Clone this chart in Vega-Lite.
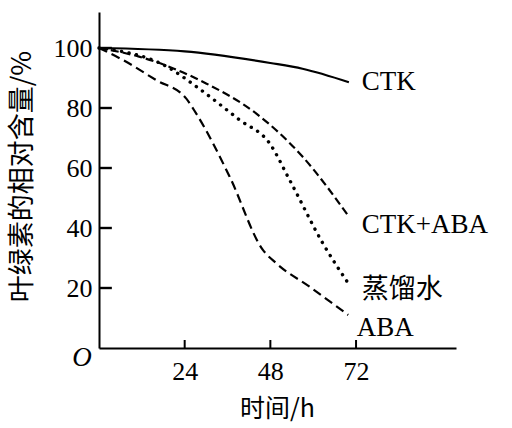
{
  "$schema": "https://vega.github.io/schema/vega-lite/v6.json",
  "width": 357,
  "height": 336,
  "autosize": "none",
  "padding": {"left": 99, "top": 12, "right": 56, "bottom": 80},
  "background": "white",
  "config": {"view": {"stroke": null}},
  "datasets": {
    "curves": [
      {"t": 0, "v": 100, "s": "CTK"},
      {"t": 24, "v": 98.9, "s": "CTK"},
      {"t": 48, "v": 95, "s": "CTK"},
      {"t": 57, "v": 93.1, "s": "CTK"},
      {"t": 70, "v": 88.6, "s": "CTK"},
      {"t": 0, "v": 100, "s": "CTK+ABA"},
      {"t": 11, "v": 97.2, "s": "CTK+ABA"},
      {"t": 30, "v": 88.2, "s": "CTK+ABA"},
      {"t": 44, "v": 78.2, "s": "CTK+ABA"},
      {"t": 57, "v": 63.8, "s": "CTK+ABA"},
      {"t": 70, "v": 43.8, "s": "CTK+ABA"},
      {"t": 0, "v": 100, "s": "water"},
      {"t": 19, "v": 93.8, "s": "water"},
      {"t": 27.3, "v": 87.1, "s": "water"},
      {"t": 39.4, "v": 76, "s": "water"},
      {"t": 47.8, "v": 68.2, "s": "water"},
      {"t": 53.4, "v": 56, "s": "water"},
      {"t": 62.7, "v": 34.9, "s": "water"},
      {"t": 69.8, "v": 21.6, "s": "water"},
      {"t": 0, "v": 100, "s": "ABA"},
      {"t": 6.7, "v": 96, "s": "ABA"},
      {"t": 16, "v": 89.3, "s": "ABA"},
      {"t": 24.4, "v": 83.2, "s": "ABA"},
      {"t": 27.2, "v": 78.2, "s": "ABA"},
      {"t": 36.6, "v": 57.1, "s": "ABA"},
      {"t": 45.9, "v": 32.7, "s": "ABA"},
      {"t": 49.7, "v": 28.2, "s": "ABA"},
      {"t": 59, "v": 20.4, "s": "ABA"},
      {"t": 69.8, "v": 11, "s": "ABA"}
    ],
    "labels": [
      {"t": 73.6, "v": 88.7, "label": "CTK"},
      {"t": 73.6, "v": 41, "label": "CTK+ABA"},
      {"t": 72.2, "v": 6.7, "label": "ABA"}
    ],
    "cjk": [
      {"t": 73.6, "v": 19.3, "label": "蒸馏水"}
    ],
    "origin": [{"t": 0, "v": 0, "label": "O"}],
    "xticks": [{"t": 24}, {"t": 48}, {"t": 72}],
    "yticks": [{"v": 20}, {"v": 40}, {"v": 60}, {"v": 80}, {"v": 100}]
  },
  "layer": [
    {
      "data": {"name": "curves"},
      "transform": [{"filter": "datum.s === 'CTK'"}],
      "mark": {"type": "line", "color": "black", "strokeWidth": 2.2, "interpolate": "monotone"},
      "encoding": {
        "x": {
          "field": "t", "type": "quantitative",
          "scale": {"domain": [0, 100], "nice": false},
          "axis": {
            "values": [24, 48, 72],
            "title": "时间/h",
            "titleFont": "Noto Sans CJK SC",
            "titleFontSize": 25,
            "titleFontWeight": "normal",
            "titleColor": "black",
            "titleX": 178,
            "titleY": 60,
            "titleBaseline": "middle",
            "labelFont": "Liberation Serif",
            "labelFontSize": 26,
            "labelColor": "black",
            "labelPadding": 10,
            "ticks": false,
            "domainColor": "black",
            "domainWidth": 2,
            "grid": false
          }
        },
        "y": {
          "field": "v", "type": "quantitative",
          "scale": {"domain": [0, 112], "nice": false},
          "axis": {
            "values": [20, 40, 60, 80, 100],
            "title": "叶绿素的相对含量/%",
            "titleFont": "Noto Sans CJK SC",
            "titleFontSize": 27,
            "titleFontWeight": "normal",
            "titleColor": "black",
            "titleX": -77,
            "titleY": 164,
            "titleBaseline": "middle",
            "labelFont": "Liberation Serif",
            "labelFontSize": 26,
            "labelColor": "black",
            "labelPadding": 7,
            "ticks": false,
            "domainColor": "black",
            "domainWidth": 2,
            "grid": false
          }
        }
      }
    },
    {
      "data": {"name": "curves"},
      "transform": [{"filter": "datum.s === 'CTK+ABA'"}],
      "mark": {"type": "line", "color": "black", "strokeWidth": 2.2, "interpolate": "monotone", "strokeDash": [8, 4]},
      "encoding": {
        "x": {"field": "t", "type": "quantitative"},
        "y": {"field": "v", "type": "quantitative"}
      }
    },
    {
      "data": {"name": "curves"},
      "transform": [{"filter": "datum.s === 'water'"}],
      "mark": {"type": "line", "color": "black", "strokeWidth": 3.4, "interpolate": "monotone", "strokeDash": [0.1, 7.5], "strokeCap": "round"},
      "encoding": {
        "x": {"field": "t", "type": "quantitative"},
        "y": {"field": "v", "type": "quantitative"}
      }
    },
    {
      "data": {"name": "curves"},
      "transform": [{"filter": "datum.s === 'ABA'"}],
      "mark": {"type": "line", "color": "black", "strokeWidth": 2.2, "interpolate": "monotone", "strokeDash": [9, 5]},
      "encoding": {
        "x": {"field": "t", "type": "quantitative"},
        "y": {"field": "v", "type": "quantitative"}
      }
    },
    {
      "data": {"name": "yticks"},
      "mark": {"type": "rule", "color": "black", "strokeWidth": 2.4, "opacity": 1, "strokeCap": "butt"},
      "encoding": {
        "x": {"datum": 0, "type": "quantitative"},
        "x2": {"datum": 3.6},
        "y": {"field": "v", "type": "quantitative"}
      }
    },
    {
      "data": {"name": "xticks"},
      "mark": {"type": "tick", "orient": "vertical", "color": "black", "size": 8, "thickness": 2, "yOffset": -4, "opacity": 1},
      "encoding": {
        "x": {"field": "t", "type": "quantitative"},
        "y": {"datum": 0, "type": "quantitative"}
      }
    },
    {
      "data": {"name": "labels"},
      "mark": {"type": "text", "align": "left", "baseline": "middle", "fontSize": 27, "font": "Liberation Serif", "color": "black"},
      "encoding": {
        "x": {"field": "t", "type": "quantitative"},
        "y": {"field": "v", "type": "quantitative"},
        "text": {"field": "label"}
      }
    },
    {
      "data": {"name": "cjk"},
      "mark": {"type": "text", "align": "left", "baseline": "middle", "fontSize": 27, "font": "Noto Sans CJK SC", "color": "black"},
      "encoding": {
        "x": {"field": "t", "type": "quantitative"},
        "y": {"field": "v", "type": "quantitative"},
        "text": {"field": "label"}
      }
    },
    {
      "data": {"name": "origin"},
      "mark": {"type": "text", "align": "center", "baseline": "middle", "fontSize": 27, "fontStyle": "italic", "font": "Liberation Serif", "color": "black", "dx": -17, "dy": 10},
      "encoding": {
        "x": {"field": "t", "type": "quantitative"},
        "y": {"field": "v", "type": "quantitative"},
        "text": {"field": "label"}
      }
    }
  ]
}
